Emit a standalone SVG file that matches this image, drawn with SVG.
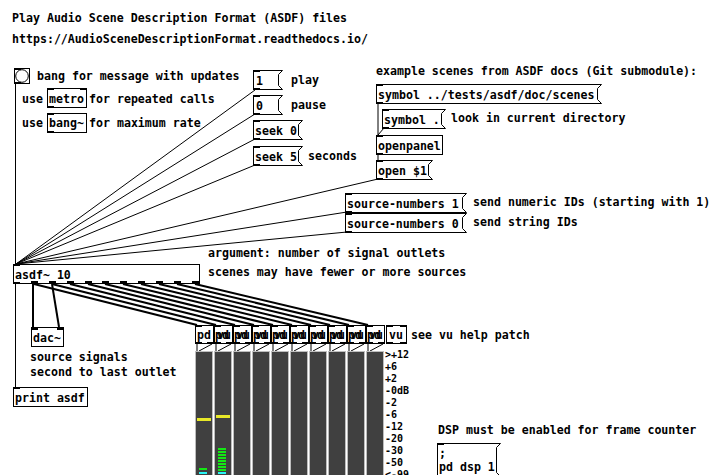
<svg xmlns="http://www.w3.org/2000/svg" width="712" height="475" viewBox="0 0 712 475">
  <style>
    .t { font-family: "DejaVu Sans Mono", "Liberation Mono", monospace; font-weight: bold; font-size: 11.6px; fill: #000; }
    .s { font-family: "DejaVu Sans Mono", "Liberation Mono", monospace; font-weight: bold; font-size: 10px; fill: #000; }
    .box { fill: #fff; stroke: #000; stroke-width: 1; }
    .io { fill: #000; }
    .c { stroke: #000; stroke-width: 1; fill: none; }
    .sig { stroke: #000; stroke-width: 2; fill: none; }
    .meter { fill: #404040; stroke: #bdbdbd; stroke-width: 1; }
    .peak { fill: #e8e828; }
    .led { fill: #14e814; }
    .clip { fill: #28f4f4; }
  </style>
  <defs>
    <!-- subpatch box feeding one meter: box, inlet, two outlets and the two wires down -->
    <g id="sub">
      <rect class="box" x="0.5" y="0.5" width="18" height="18"/>
      <rect class="io" x="0" y="0" width="7" height="2"/>
      <rect class="io" x="0" y="17" width="7" height="2"/>
      <rect class="io" x="12" y="17" width="7" height="2"/>
      <line class="c" x1="2" y1="19" x2="2" y2="26"/>
      <line class="c" x1="17" y1="19" x2="4" y2="26"/>
    </g>
  </defs>
  <rect width="712" height="475" fill="#fff"/>

  <!-- comments -->
  <g id="comments">
    <text class="t" x="12" y="22">Play Audio Scene Description Format (ASDF) files</text>
    <text class="t" x="12" y="43">https://AudioSceneDescriptionFormat.readthedocs.io/</text>
    <text class="t" x="37" y="80">bang for message with updates</text>
    <text class="t" x="22" y="103">use</text>
    <text class="t" x="89" y="103">for repeated calls</text>
    <text class="t" x="22" y="127">use</text>
    <text class="t" x="89" y="127">for maximum rate</text>
    <text class="t" x="291" y="84">play</text>
    <text class="t" x="291" y="109">pause</text>
    <text class="t" x="308" y="160">seconds</text>
    <text class="t" x="376" y="75">example scenes from ASDF docs (Git submodule):</text>
    <text class="t" x="451" y="122">look in current directory</text>
    <text class="t" x="473" y="206">send numeric IDs (starting with 1)</text>
    <text class="t" x="473" y="226">send string IDs</text>
    <text class="t" x="208" y="257">argument: number of signal outlets</text>
    <text class="t" x="208" y="276">scenes may have fewer or more sources</text>
    <text class="t" x="30" y="361">source signals</text>
    <text class="t" x="30" y="376">second to last outlet</text>
    <text class="t" x="411" y="339">see vu help patch</text>
    <text class="t" x="438" y="434">DSP must be enabled for frame counter</text>
  </g>

  <!-- connections -->
  <g id="connectors">
    <line class="c" x1="15.5" y1="84" x2="15.5" y2="264"/>
    <line class="c" x1="255" y1="90" x2="16" y2="264"/>
    <line class="c" x1="255" y1="114" x2="16" y2="264"/>
    <line class="c" x1="255" y1="139" x2="16" y2="264"/>
    <line class="c" x1="255" y1="165" x2="16" y2="264"/>
    <line class="c" x1="378" y1="179" x2="16" y2="264"/>
    <line class="c" x1="347" y1="212" x2="16" y2="264"/>
    <line class="c" x1="347" y1="232" x2="16" y2="264"/>
    <line class="c" x1="378" y1="103" x2="378" y2="135"/>
    <line class="c" x1="384" y1="128" x2="378" y2="135"/>
    <line class="c" x1="378" y1="154" x2="378" y2="160"/>
    <line class="c" x1="15.5" y1="283" x2="15.5" y2="387"/>
    <line class="sig" x1="33" y1="284" x2="33" y2="327"/>
    <line class="sig" x1="52" y1="284" x2="59" y2="327"/>
    <!-- source signal fan-out to the meter subpatches -->
    <line class="sig" x1="34" y1="284" x2="197" y2="325"/>
    <line class="sig" x1="52" y1="284" x2="216" y2="325"/>
    <line class="sig" x1="70" y1="284" x2="235" y2="325"/>
    <line class="sig" x1="88" y1="284" x2="254" y2="325"/>
    <line class="sig" x1="105" y1="284" x2="273" y2="325"/>
    <line class="sig" x1="123" y1="284" x2="292" y2="325"/>
    <line class="sig" x1="141" y1="284" x2="311" y2="325"/>
    <line class="sig" x1="159" y1="284" x2="330" y2="325"/>
    <line class="sig" x1="177" y1="284" x2="349" y2="325"/>
    <line class="sig" x1="195" y1="284" x2="368" y2="325"/>
  </g>

  <!-- bang -->
  <g id="bang">
    <rect class="box" x="14.5" y="68.5" width="15" height="15"/>
    <circle cx="22" cy="76" r="6.3" fill="none" stroke="#000"/>
    <rect class="io" x="14" y="68" width="7" height="2"/>
    <rect class="io" x="14" y="82" width="7" height="2"/>
  </g>

  <g id="metro">
    <rect class="box" x="47.5" y="88.5" width="39" height="19"/>
    <rect class="io" x="47" y="88" width="7" height="2"/>
    <rect class="io" x="80" y="88" width="7" height="2"/>
    <rect class="io" x="47" y="106" width="7" height="2"/>
    <text class="t" x="49" y="103">metro</text>
  </g>

  <g id="bangtilde">
    <rect class="box" x="47.5" y="113.5" width="39" height="19"/>
    <rect class="io" x="47" y="113" width="7" height="2"/>
    <rect class="io" x="47" y="131" width="7" height="2"/>
    <text class="t" x="49" y="127">bang~</text>
  </g>

  <!-- transport messages -->
  <g id="msg-play">
    <path class="box" d="M253.5 70.5 H282.5 L278.5 74.5 V85.5 L282.5 89.5 H253.5 Z"/>
    <rect class="io" x="253" y="70" width="7" height="2"/>
    <rect class="io" x="253" y="88" width="7" height="2"/>
    <text class="t" x="256" y="85">1</text>
  </g>
  <g id="msg-pause">
    <path class="box" d="M253.5 95.5 H282.5 L278.5 99.5 V110.5 L282.5 114.5 H253.5 Z"/>
    <rect class="io" x="253" y="95" width="7" height="2"/>
    <rect class="io" x="253" y="113" width="7" height="2"/>
    <text class="t" x="256" y="110">0</text>
  </g>
  <g id="msg-seek0">
    <path class="box" d="M253.5 120.5 H302.5 L298.5 124.5 V135.5 L302.5 139.5 H253.5 Z"/>
    <rect class="io" x="253" y="120" width="7" height="2"/>
    <rect class="io" x="253" y="138" width="7" height="2"/>
    <text class="t" x="255" y="135">seek 0</text>
  </g>
  <g id="msg-seek5">
    <path class="box" d="M253.5 146.5 H302.5 L298.5 150.5 V161.5 L302.5 165.5 H253.5 Z"/>
    <rect class="io" x="253" y="146" width="7" height="2"/>
    <rect class="io" x="253" y="164" width="7" height="2"/>
    <text class="t" x="255" y="161">seek 5</text>
  </g>

  <!-- scene selection -->
  <g id="msg-scenes">
    <path class="box" d="M376.5 84.5 H601.5 L597.5 88.5 V99.5 L601.5 103.5 H376.5 Z"/>
    <rect class="io" x="376" y="84" width="7" height="2"/>
    <rect class="io" x="376" y="102" width="7" height="2"/>
    <text class="t" x="378" y="99">symbol ../tests/asdf/doc/scenes</text>
  </g>
  <g id="msg-current">
    <path class="box" d="M382.5 109.5 H445.5 L441.5 113.5 V124.5 L445.5 128.5 H382.5 Z"/>
    <rect class="io" x="382" y="109" width="7" height="2"/>
    <rect class="io" x="382" y="127" width="7" height="2"/>
    <text class="t" x="384" y="124">symbol .</text>
  </g>
  <g id="openpanel">
    <rect class="box" x="376.5" y="135.5" width="66" height="19"/>
    <rect class="io" x="376" y="135" width="7" height="2"/>
    <rect class="io" x="376" y="153" width="7" height="2"/>
    <text class="t" x="378" y="150">openpanel</text>
  </g>
  <g id="msg-open">
    <path class="box" d="M376.5 160.5 H432.5 L428.5 164.5 V175.5 L432.5 179.5 H376.5 Z"/>
    <rect class="io" x="376" y="160" width="7" height="2"/>
    <rect class="io" x="376" y="178" width="7" height="2"/>
    <text class="t" x="378" y="175">open $1</text>
  </g>

  <g id="msg-numbers1">
    <path class="box" d="M345.5 193.5 H466.5 L462.5 197.5 V208.5 L466.5 212.5 H345.5 Z"/>
    <rect class="io" x="345" y="193" width="7" height="2"/>
    <rect class="io" x="345" y="211" width="7" height="2"/>
    <text class="t" x="347" y="208">source-numbers 1</text>
  </g>
  <g id="msg-numbers0">
    <path class="box" d="M345.5 213.5 H466.5 L462.5 217.5 V228.5 L466.5 232.5 H345.5 Z"/>
    <rect class="io" x="345" y="213" width="7" height="2"/>
    <rect class="io" x="345" y="231" width="7" height="2"/>
    <text class="t" x="347" y="228">source-numbers 0</text>
  </g>

  <!-- player object -->
  <g id="asdf">
    <rect class="box" x="13.5" y="264.5" width="186" height="19"/>
    <rect class="io" x="13" y="264" width="7" height="2"/>
    <rect class="io" x="13" y="282" width="7" height="2"/>
    <rect class="io" x="31" y="281" width="7" height="3"/>
    <rect class="io" x="49" y="281" width="7" height="3"/>
    <rect class="io" x="67" y="281" width="7" height="3"/>
    <rect class="io" x="85" y="281" width="7" height="3"/>
    <rect class="io" x="102" y="281" width="7" height="3"/>
    <rect class="io" x="120" y="281" width="7" height="3"/>
    <rect class="io" x="138" y="281" width="7" height="3"/>
    <rect class="io" x="156" y="281" width="7" height="3"/>
    <rect class="io" x="174" y="281" width="7" height="3"/>
    <rect class="io" x="192" y="281" width="7" height="3"/>
    <text class="t" x="15" y="279">asdf~ 10</text>
  </g>

  <g id="dac">
    <rect class="box" x="31.5" y="327.5" width="32" height="19"/>
    <rect class="io" x="31" y="327" width="7" height="3"/>
    <rect class="io" x="57" y="327" width="7" height="3"/>
    <text class="t" x="33" y="342">dac~</text>
  </g>

  <g id="print">
    <rect class="box" x="13.5" y="387.5" width="74" height="19"/>
    <rect class="io" x="13" y="387" width="7" height="2"/>
    <text class="t" x="15" y="402">print asdf</text>
  </g>

  <!-- meter subpatches, one per source -->
  <g id="sub-1"><use href="#sub" x="195" y="325"/><text class="t" x="197" y="339">pd</text></g>
  <g id="sub-2"><use href="#sub" x="214" y="325"/><text class="t" x="215" y="339">pd</text><text class="t" x="217" y="339">vu</text></g>
  <g id="sub-3"><use href="#sub" x="233" y="325"/><text class="t" x="234" y="339">pd</text><text class="t" x="236" y="339">vu</text></g>
  <g id="sub-4"><use href="#sub" x="252" y="325"/><text class="t" x="253" y="339">pd</text><text class="t" x="255" y="339">vu</text></g>
  <g id="sub-5"><use href="#sub" x="271" y="325"/><text class="t" x="272" y="339">pd</text><text class="t" x="274" y="339">vu</text></g>
  <g id="sub-6"><use href="#sub" x="290" y="325"/><text class="t" x="291" y="339">pd</text><text class="t" x="293" y="339">vu</text></g>
  <g id="sub-7"><use href="#sub" x="309" y="325"/><text class="t" x="310" y="339">pd</text><text class="t" x="312" y="339">vu</text></g>
  <g id="sub-8"><use href="#sub" x="328" y="325"/><text class="t" x="329" y="339">pd</text><text class="t" x="331" y="339">vu</text></g>
  <g id="sub-9"><use href="#sub" x="347" y="325"/><text class="t" x="348" y="339">pd</text><text class="t" x="350" y="339">vu</text></g>
  <g id="sub-10"><use href="#sub" x="366" y="325"/><text class="t" x="367" y="339">pd</text><text class="t" x="369" y="339">vu</text></g>

  <g id="vu">
    <rect class="box" x="386.5" y="325.5" width="20" height="18"/>
    <rect class="io" x="386" y="325" width="7" height="2"/>
    <rect class="io" x="400" y="325" width="7" height="2"/>
    <rect class="io" x="386" y="342" width="7" height="2"/>
    <rect class="io" x="400" y="342" width="7" height="2"/>
    <text class="t" x="389" y="339">vu</text>
  </g>

  <g id="meter-bars">
    <rect class="meter" x="195.5" y="351.5" width="17" height="130"/>
    <rect class="meter" x="214.5" y="351.5" width="17" height="130"/>
    <rect class="meter" x="233.5" y="351.5" width="17" height="130"/>
    <rect class="meter" x="252.5" y="351.5" width="17" height="130"/>
    <rect class="meter" x="271.5" y="351.5" width="17" height="130"/>
    <rect class="meter" x="290.5" y="351.5" width="17" height="130"/>
    <rect class="meter" x="309.5" y="351.5" width="17" height="130"/>
    <rect class="meter" x="328.5" y="351.5" width="17" height="130"/>
    <rect class="meter" x="347.5" y="351.5" width="17" height="130"/>
    <rect class="meter" x="366.5" y="351.5" width="17" height="130"/>
    <rect class="peak" x="197" y="418" width="14" height="3"/>
    <rect class="peak" x="216" y="415" width="14" height="3"/>
    <rect class="led" x="199" y="468" width="8" height="2"/>
    <rect class="clip" x="199" y="472" width="8" height="2"/>
    <rect class="led" x="218" y="448" width="8" height="2"/>
    <rect class="led" x="218" y="451" width="8" height="2"/>
    <rect class="led" x="218" y="454" width="8" height="2"/>
    <rect class="led" x="218" y="457" width="8" height="2"/>
    <rect class="led" x="218" y="460" width="8" height="2"/>
    <rect class="led" x="218" y="463" width="8" height="2"/>
    <rect class="led" x="218" y="466" width="8" height="2"/>
    <rect class="led" x="218" y="469" width="8" height="2"/>
    <rect class="clip" x="218" y="472" width="8" height="2"/>
    <text class="s" x="385" y="358">&gt;+12</text>
    <text class="s" x="385" y="370">+6</text>
    <text class="s" x="385" y="382">+2</text>
    <text class="s" x="385" y="394">-0dB</text>
    <text class="s" x="385" y="406">-2</text>
    <text class="s" x="385" y="418">-6</text>
    <text class="s" x="385" y="430">-12</text>
    <text class="s" x="385" y="442">-20</text>
    <text class="s" x="385" y="454">-30</text>
    <text class="s" x="385" y="466">-50</text>
    <text class="s" x="385" y="478">&lt;-99</text>
  </g>

  <g id="msg-dsp">
    <path class="box" d="M437.5 443.5 H500.5 L496.5 447.5 V472.5 L500.5 476.5 H437.5 Z"/>
    <rect class="io" x="437" y="443" width="7" height="2"/>
    <text class="t" x="439" y="457">;</text>
    <text class="t" x="439" y="471">pd dsp 1</text>
  </g>
</svg>
